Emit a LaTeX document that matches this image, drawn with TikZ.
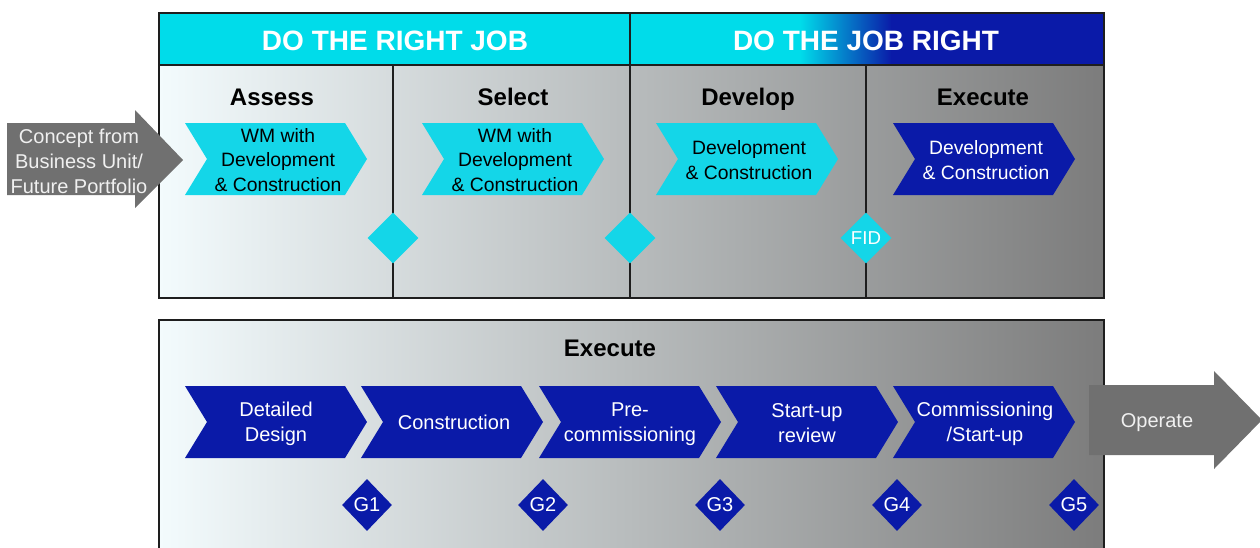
\documentclass[tikz,border=0pt]{standalone}
\usepackage{fontspec}
\setmainfont{Liberation Sans}
\usetikzlibrary{shapes.geometric}
\definecolor{phcyan}{HTML}{14D6E8}
\definecolor{hdcyan}{HTML}{00DCEA}
\definecolor{phblue}{HTML}{0A1AA8}
\definecolor{arrowgray}{HTML}{707070}
\definecolor{edge}{HTML}{1E1E1E}
\definecolor{bgl}{HTML}{F3FBFD}
\definecolor{bgm}{HTML}{BFC5C7}
\definecolor{bgr}{HTML}{7C7C7C}
% chevron outline: #1 fill style, #2 left x, #3 top y
\newcommand\chevshape[3]{%
  \fill[#1] (#2,#3) -- ++(160,0) -- ++(22,36) -- ++(-22,36) -- ++(-160,0) -- ++(22,-36) -- cycle;}
\begin{document}
\begin{tikzpicture}[x=0.75pt,y=-0.75pt,
  frame/.style={draw=edge,line width=1.1pt},
  panelbg/.style={left color=bgl,middle color=bgm,right color=bgr,shading angle=90},
  headtext/.style={text=white,anchor=base,font=\bfseries\fontsize{21}{24}\selectfont},
  coltitle/.style={text=black,anchor=base,font=\bfseries\fontsize{18}{21}\selectfont},
  chevtext/.style={align=center,font=\fontsize{14.5}{18.4}\selectfont,inner sep=0pt},
  lowtext/.style={align=center,text=white,font=\fontsize{15}{18.8}\selectfont,inner sep=0pt},
  gatecyan/.style={fill=phcyan,diamond,minimum width=51*0.75pt,minimum height=51*0.75pt,inner sep=0pt,
    text=white,font=\fontsize{14}{16}\selectfont},
  gateblue/.style={fill=phblue,diamond,minimum width=50*0.75pt,minimum height=52*0.75pt,inner sep=0pt,
    text=white,font=\fontsize{15}{17}\selectfont},
  bigarrow/.style={fill=arrowgray}
]
\useasboundingbox (0,0) rectangle (1260,547);

% ---------- upper panel ----------
\shade[panelbg] (159,65) rectangle (1104,298);
\fill[hdcyan] (159,13) rectangle (800,65);
\shade[left color=hdcyan,right color=phblue] (800,13) rectangle (892,65);
\fill[phblue] (891,13) rectangle (1104,65);
\draw[frame] (159,13) rectangle (1104,298);
\draw[frame] (159,65) -- (1104,65);
\draw[frame] (630,13) -- (630,298);
\draw[frame] (393,65) -- (393,298);
\draw[frame] (866,65) -- (866,298);

\node[headtext] (h1) at (395,50) {DO THE RIGHT JOB};
\node[headtext] (h2) at (866,50) {DO THE JOB RIGHT};

\node[coltitle] (t1) at (272,105) {Assess};
\node[coltitle] (t2) at (513,105) {Select};
\node[coltitle] (t3) at (748,105) {Develop};
\node[coltitle] (t4) at (983,105) {Execute};

\chevshape{phcyan}{185}{123}
\chevshape{phcyan}{422}{123}
\chevshape{phcyan}{656}{123}
\chevshape{phblue}{893}{123}
\node[chevtext] (c1) at (278,160) {WM with\\Development\\\& Construction};
\node[chevtext] (c2) at (515,160) {WM with\\Development\\\& Construction};
\node[chevtext] (c3) at (749,160) {Development\\\& Construction};
\node[chevtext,text=white] (c4) at (986,160) {Development\\\& Construction};

\node[gatecyan] (d1) at (393,238) {};
\node[gatecyan] (d2) at (630,238) {};
\node[gatecyan] (d3) at (866,238) {FID};

% incoming concept arrow
\fill[bigarrow] (7,123) -- (135,123) -- (135,110) -- (183,160) -- (135,208) -- (135,195) -- (7,195) -- cycle;
\node[lowtext,text=white!94!black] (src) at (79,161) {Concept from\\Business Unit/\\Future Portfolio};

% ---------- lower panel ----------
\shade[panelbg] (159,320) rectangle (1104,560);
\draw[frame] (159,560) -- (159,320) -- (1104,320) -- (1104,560);
\node[coltitle] (t5) at (610,356) {Execute};

\chevshape{phblue}{185}{386}
\chevshape{phblue}{361}{386}
\chevshape{phblue}{539}{386}
\chevshape{phblue}{716}{386}
\chevshape{phblue}{893}{386}
\node[lowtext] (e1) at (276,424) {Detailed\\Design};
\node[lowtext] (e2) at (454,422) {Construction};
\node[lowtext] (e3) at (630,424) {Pre-\\commissioning};
\node[lowtext] (e4) at (807,423) {Start-up\\review};
\node[lowtext] (e5) at (985,424) {Commissioning\\/Start-up};

\node[gateblue] (g1) at (367,505) {G1};
\node[gateblue] (g2) at (543,505) {G2};
\node[gateblue] (g3) at (720,505) {G3};
\node[gateblue] (g4) at (897,505) {G4};
\node[gateblue] (g5) at (1074,505) {G5};

% outgoing operate arrow
\fill[bigarrow] (1089,385) -- (1214,385) -- (1214,371) -- (1262,420) -- (1214,469) -- (1214,455) -- (1089,455) -- cycle;
\node[lowtext,text=white!94!black] (op) at (1157,423) {Operate};
\end{tikzpicture}
\end{document}
